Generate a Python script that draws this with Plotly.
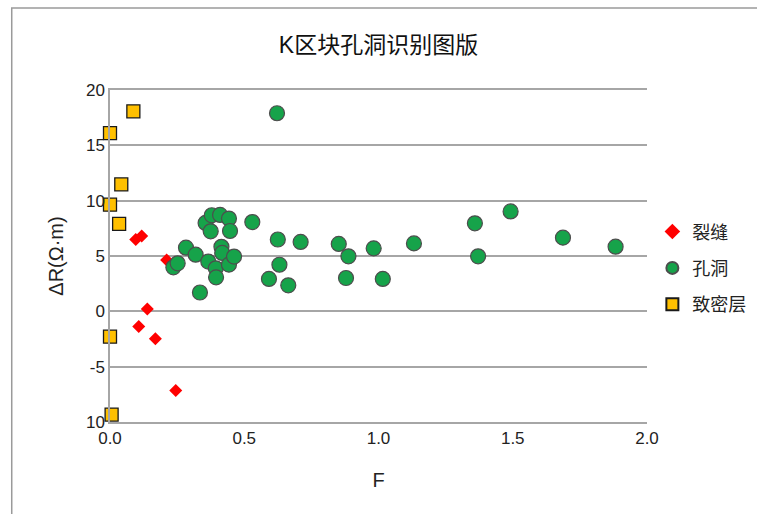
import plotly.graph_objects as go

# 裂缝 (fractures)
crack_x = [0.096, 0.118, 0.211, 0.139, 0.107, 0.169, 0.245]
crack_y = [6.48, 6.81, 4.64, 0.21, -1.38, -2.47, -7.16]

# 孔洞 (vugs)
vug_x = [0.236, 0.252, 0.283, 0.319, 0.335, 0.356, 0.366, 0.375, 0.379, 0.394,
         0.395, 0.410, 0.415, 0.418, 0.443, 0.447, 0.443, 0.462, 0.530, 0.592,
         0.622, 0.625, 0.631, 0.664, 0.710, 0.852, 0.888, 0.879, 0.982, 1.016,
         1.132, 1.359, 1.371, 1.492, 1.687, 1.883]
vug_y = [3.98, 4.34, 5.75, 5.12, 1.70, 7.99, 4.50, 7.23, 8.68, 3.89,
         3.07, 8.71, 5.83, 5.28, 8.38, 7.26, 4.22, 4.95, 8.07, 2.93,
         17.9, 6.49, 4.21, 2.35, 6.27, 6.09, 4.97, 3.01, 5.69, 2.93,
         6.14, 7.95, 4.97, 9.03, 6.66, 5.84]

# 致密层 (tight layer)
tight_x = [0.087, 0.0, 0.042, 0.0, 0.034, 0.0, 0.006]
tight_y = [18.07, 16.1, 11.47, 9.64, 7.9, -2.29, -9.33]

y_tickvals = [20, 15, 10, 5, 0, -5, -10]
y_ticktext = ["20", "15", "10", "5", "0", "-5", "10"]
x_tickvals = [0.0, 0.5, 1.0, 1.5, 2.0]
x_ticktext = ["0.0", "0.5", "1.0", "1.5", "2.0"]

FONT = "Arial, 'Liberation Sans', 'Noto Sans CJK SC', sans-serif"
GRID = "#a6a6a6"

fig = go.Figure()
fig.add_trace(go.Scatter(
    x=crack_x, y=crack_y, mode="markers", name="裂缝", legendgroup="a",
    cliponaxis=False,
    marker=dict(symbol="diamond", size=10, color="#ff0000",
                line=dict(width=0)),
))
fig.add_trace(go.Scatter(
    x=vug_x, y=vug_y, mode="markers", name="孔洞", legendgroup="b",
    cliponaxis=False,
    marker=dict(symbol="circle", size=15, color="#16a34a",
                line=dict(width=1.2, color="#4d4d4d")),
))
fig.add_trace(go.Scatter(
    x=tight_x, y=tight_y, mode="markers", name="致密层", legendgroup="c",
    cliponaxis=False,
    marker=dict(symbol="square", size=13, color="#ffc000",
                line=dict(width=1.3, color="#1a1a1a")),
))

fig.update_layout(
    width=757, height=514,
    margin=dict(l=110, r=110, t=90, b=92, autoexpand=False),
    paper_bgcolor="white", plot_bgcolor="white",
    font=dict(family=FONT, color="#222222"),
    title=dict(text="K区块孔洞识别图版", x=0.5, xref="paper", xanchor="center",
               y=0.912, yref="container", yanchor="middle",
               font=dict(size=23, color="#111111", family=FONT)),
    showlegend=True,
    legend=dict(x=1.01, xanchor="left", y=0.463, yanchor="middle",
                font=dict(size=18, color="#222222"),
                itemsizing="constant", tracegroupgap=10, itemwidth=30,
                traceorder="grouped", bgcolor="rgba(0,0,0,0)"),
    xaxis=dict(range=[0, 2], tickvals=x_tickvals, ticktext=x_ticktext,
               showgrid=False, zeroline=False,
               showline=True, mirror=True, linecolor=GRID, linewidth=1.5,
               ticks="", tickfont=dict(size=17, color="#222222"),
               title=dict(text="F", font=dict(size=20, color="#222222"),
                          standoff=26)),
    yaxis=dict(range=[-10, 20], tickvals=y_tickvals, ticktext=y_ticktext,
               showgrid=True, gridcolor=GRID, gridwidth=1.5,
               zeroline=True, zerolinecolor=GRID, zerolinewidth=1.5,
               showline=True, linecolor=GRID, linewidth=1.5,
               ticks="", tickfont=dict(size=17, color="#222222"),
               title=dict(text="ΔR(Ω·m)", font=dict(size=20, color="#222222"),
                          standoff=17)),
    shapes=[dict(type="rect", xref="paper", yref="paper",
                 x0=-0.183, x1=1.6, y0=-0.35, y1=1.247,
                 line=dict(color="#9a9a9a", width=1.5), layer="below")],
)

fig.write_html("out.html",
               config={"displayModeBar": False},
               post_script="document.body.style.margin='0';"
                           "document.body.style.overflow='hidden';")
